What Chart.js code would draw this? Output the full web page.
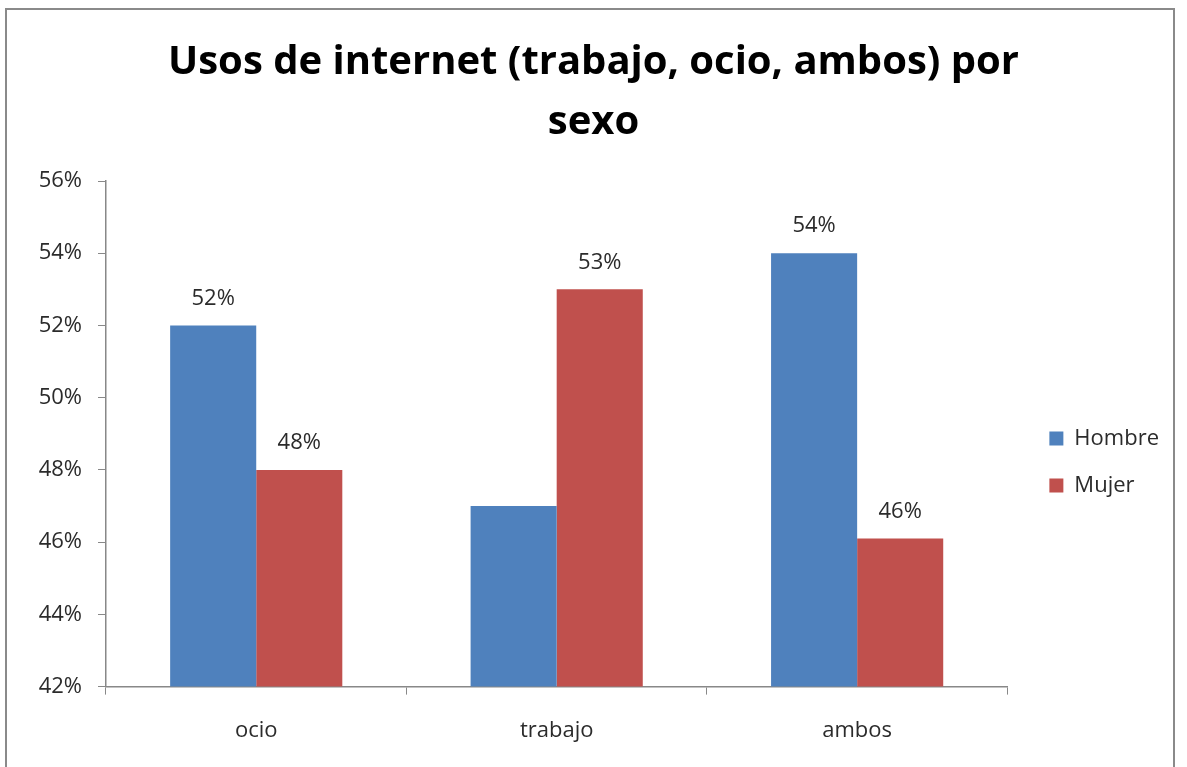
<!DOCTYPE html>
<html>
<head>
<meta charset="utf-8">
<script src="https://cdn.jsdelivr.net/npm/chart.js@4.4.1/dist/chart.umd.min.js"></script>
<style>
	body { margin: 0; background: #fff; }
	#wrap { position: relative; width: 1187px; height: 767px; overflow: hidden; }
	#frame { position: absolute; left: 5px; top: 8px; width: 1170px; height: 800px; border: 2px solid #8a8a8a; box-sizing: border-box; }
	#wrap canvas { position: absolute; left: 0; top: 0; }
</style>
</head>
<body>
<div id="wrap">
	<div id="frame"></div>
	<canvas id="myChart1" width="1187" height="767"></canvas>
</div>
<script>
var categorias = ["ocio", "trabajo", "ambos"];
var hombre = [52, 47, 54];
var mujer = [48, 53, 46.1];
// etiquetas visibles sobre las barras (la de trabajo/Hombre no aparece en el original)
var hombreEtiqueta = [true, false, true];
var mujerEtiqueta = [true, true, true];
var ejeMin = 42, ejeMax = 56, ejePaso = 2;

var fuente = "'Open Sans', 'Noto Sans', sans-serif";
var colorTexto = "#2b2b2b";
var colorEje = "#888888";

// dibuja el valor encima de cada barra
var etiquetasBarras = {
	id: 'etiquetasBarras',
	afterDatasetsDraw: function(chart) {
		var ctx = chart.ctx;
		ctx.save();
		ctx.font = "22px " + fuente;
		ctx.fillStyle = colorTexto;
		ctx.textAlign = "center";
		ctx.textBaseline = "middle";
		chart.data.datasets.forEach(function(ds, i) {
			var meta = chart.getDatasetMeta(i);
			meta.data.forEach(function(bar, j) {
				if (!ds.mostrar[j]) return;
				ctx.fillText(Math.round(ds.data[j]) + "%", bar.x, bar.y - 27);
			});
		});
		ctx.restore();
	}
};

var ctx = document.getElementById("myChart1").getContext("2d");
window.myBar = new Chart(ctx, {
	type: 'bar',
	data: {
		labels: categorias,
		datasets: [{
			label: 'Hombre',
			backgroundColor: "#4F81BD",
			data: hombre,
			mostrar: hombreEtiqueta
		}, {
			label: 'Mujer',
			backgroundColor: "#C0504D",
			data: mujer,
			mostrar: mujerEtiqueta
		}]
	},
	plugins: [etiquetasBarras],
	options: {
		responsive: false,
		animation: false,
		datasets: {
			bar: { categoryPercentage: 0.573, barPercentage: 1.0 }
		},
		layout: { padding: { left: 18, right: 18, top: 0, bottom: 0 } },
		scales: {
			x: {
				grid: { display: true, drawOnChartArea: false, drawTicks: true, tickLength: 8, color: colorEje, offset: true },
				border: { display: true, color: colorEje, width: 1.5 },
				ticks: { color: colorTexto, font: { family: fuente, size: 22 }, padding: 23 }
			},
			y: {
				min: ejeMin,
				max: ejeMax,
				grid: { display: true, drawOnChartArea: false, drawTicks: true, tickLength: 8, color: colorEje },
				border: { display: true, color: colorEje, width: 1.5 },
				ticks: {
					stepSize: ejePaso,
					color: colorTexto,
					font: { family: fuente, size: 22 },
					padding: 16,
					callback: function(v) { return v + "%"; }
				},
				afterFit: function(s) { s.width = 88; }
			},
			// eje vacío para separar la leyenda del área del gráfico
			y2: {
				position: 'right',
				grid: { display: false, drawTicks: false },
				border: { display: false },
				ticks: { display: false },
				afterFit: function(s) { s.width = 17; }
			}
		},
		plugins: {
			title: {
				display: true,
				text: ["Usos de internet (trabajo, ocio, ambos) por", "sexo"],
				color: "#000",
				font: { family: fuente, size: 40, weight: 'bold', lineHeight: 1.5 },
				padding: { top: 33, bottom: 28 }
			},
			legend: {
				position: 'right',
				title: {
					// título vacío: solo baja los elementos de la leyenda
					display: true,
					text: ' ',
					font: { size: 10, lineHeight: 1.2 },
					padding: { top: 0, bottom: 145 }
				},
				labels: {
					color: colorTexto,
					font: { family: fuente, size: 22 },
					boxWidth: 14,
					boxHeight: 14,
					padding: 25
				}
			},
			tooltip: { enabled: false }
		}
	}
});
</script>
</body>
</html>
